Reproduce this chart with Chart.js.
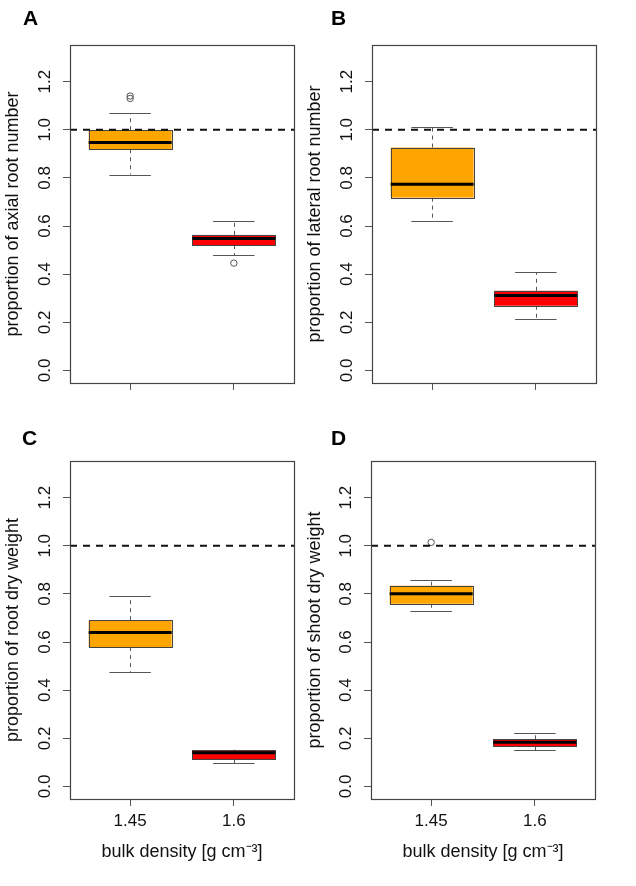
<!DOCTYPE html>
<html>
<head>
<meta charset="utf-8">
<script src="https://cdn.jsdelivr.net/npm/chart.js@4.4.1/dist/chart.umd.min.js"></script>
<style>
  body { margin: 0; background: #fff; }
  #wrap { position: relative; width: 636px; height: 886px; overflow: hidden; }
  #wrap canvas { position: absolute; }
  .letter { position: absolute; font: bold 21px 'Liberation Sans', Arial, sans-serif; line-height: 21px; color: #000; }
</style>
</head>
<body>
<div id="wrap"></div>
<script>
// categories on the x axis (bulk density)
const categories = ['1.45', '1.6'];
const yTickValues = [0, 0.2, 0.4, 0.6, 0.8, 1.0, 1.2];
const referenceLevel = 1.0;
const panelLetters = ['A', 'B', 'C', 'D'];
const yTitles = [
    'proportion of axial root number',
    'proportion of lateral root number',
    'proportion of root dry weight',
    'proportion of shoot dry weight'
];
const xTitle = 'bulk density [g cm\u207B\u00B3]';

// box stats per category: [lower whisker, q1, median, q3, upper whisker]
const axialStats = [[0.814, 0.919, 0.947, 0.998, 1.069], [0.478, 0.521, 0.548, 0.563, 0.622]];
const axialOutliers = [[1.13, 1.14], [0.446]];
const lateralStats = [[0.619, 0.718, 0.774, 0.926, 1.012], [0.213, 0.269, 0.311, 0.331, 0.409]];
const lateralOutliers = [[], []];
const rootWeightStats = [[0.476, 0.579, 0.640, 0.691, 0.790], [0.097, 0.113, 0.140, 0.151, 0.153]];
const rootWeightOutliers = [[], []];
const shootWeightStats = [[0.730, 0.759, 0.801, 0.834, 0.859], [0.151, 0.166, 0.184, 0.196, 0.224]];
const shootWeightOutliers = [[1.014], []];
const boxColors = ['#FFA500', '#FF0000'];

Chart.defaults.font.family = "'Liberation Sans', Arial, Helvetica, sans-serif";
Chart.defaults.color = '#111';

const yMin = -0.052, yMax = 1.352;
const xMin = 0.42, xMax = 2.58;

const boxPlugin = {
    id: 'boxplot',
    beforeDatasetsDraw(chart, args, opts) {
        const ctx = chart.ctx;
        const x = chart.scales.x, y = chart.scales.y;
        opts.stats.forEach((s, i) => {
            const cx = x.getPixelForValue(i + 1);
            const bl = x.getPixelForValue(i + 1 - 0.4);
            const br = x.getPixelForValue(i + 1 + 0.4);
            const sl = x.getPixelForValue(i + 1 - 0.2);
            const sr = x.getPixelForValue(i + 1 + 0.2);
            const [lo, q1, med, q3, hi] = s.map(v => y.getPixelForValue(v));
            ctx.save();
            // whiskers
            ctx.strokeStyle = '#555';
            ctx.lineWidth = 1;
            ctx.setLineDash([4, 4]);
            ctx.beginPath();
            ctx.moveTo(Math.round(cx) + 0.5, q3); ctx.lineTo(Math.round(cx) + 0.5, hi);
            ctx.moveTo(Math.round(cx) + 0.5, q1); ctx.lineTo(Math.round(cx) + 0.5, lo);
            ctx.stroke();
            ctx.setLineDash([]);
            ctx.beginPath();
            ctx.moveTo(sl, Math.round(hi) + 0.5); ctx.lineTo(sr, Math.round(hi) + 0.5);
            ctx.moveTo(sl, Math.round(lo) + 0.5); ctx.lineTo(sr, Math.round(lo) + 0.5);
            ctx.stroke();
            // box
            ctx.fillStyle = opts.colors[i];
            ctx.fillRect(bl, q3, br - bl, q1 - q3);
            ctx.strokeStyle = '#444';
            ctx.strokeRect(Math.round(bl) + 0.5, Math.round(q3) + 0.5, Math.round(br - bl), Math.round(q1 - q3));
            // median
            ctx.strokeStyle = '#000';
            ctx.lineWidth = 3;
            ctx.beginPath();
            ctx.moveTo(bl, med); ctx.lineTo(br, med);
            ctx.stroke();
            ctx.restore();
        });
    },
    afterDraw(chart) {
        const a = chart.chartArea, ctx = chart.ctx;
        ctx.save();
        ctx.strokeStyle = '#444';
        ctx.lineWidth = 1.2;
        ctx.strokeRect(Math.round(a.left) + 0.5, Math.round(a.top) + 0.5, Math.round(a.right - a.left), Math.round(a.bottom - a.top));
        ctx.restore();
    }
};

const panels = [
    { stats: axialStats, outliers: axialOutliers, left: 0, top: 0, w: 302, h: 430, area: { l: 70, r: 294, t: 45, b: 383 }, labels: false },
    { stats: lateralStats, outliers: lateralOutliers, left: 302, top: 0, w: 334, h: 430, area: { l: 70, r: 294, t: 45, b: 383 }, labels: false },
    { stats: rootWeightStats, outliers: rootWeightOutliers, left: 0, top: 430, w: 302, h: 456, area: { l: 70, r: 294, t: 31, b: 369 }, labels: true },
    { stats: shootWeightStats, outliers: shootWeightOutliers, left: 302, top: 430, w: 334, h: 456, area: { l: 69, r: 293, t: 31, b: 369 }, labels: true }
];
const letterPos = [[23, 7], [331, 7], [22, 427], [331, 427]];

const wrap = document.getElementById('wrap');

panels.forEach((p, k) => {
    const canvas = document.createElement('canvas');
    canvas.width = p.w;
    canvas.height = p.h;
    canvas.style.left = p.left + 'px';
    canvas.style.top = p.top + 'px';
    wrap.appendChild(canvas);

    const letter = document.createElement('div');
    letter.className = 'letter';
    letter.textContent = panelLetters[k];
    letter.style.left = letterPos[k][0] + 'px';
    letter.style.top = letterPos[k][1] + 'px';
    wrap.appendChild(letter);

    const outlierPoints = [];
    p.outliers.forEach((list, i) => list.forEach(v => outlierPoints.push({ x: i + 1, y: v })));

    new Chart(canvas, {
        type: 'scatter',
        data: {
            datasets: [{
                data: [{ x: xMin, y: referenceLevel }, { x: xMax, y: referenceLevel }],
                showLine: true,
                borderColor: '#111',
                borderWidth: 2,
                borderDash: [7, 6],
                pointRadius: 0
            }, {
                data: outlierPoints,
                pointRadius: 3.2,
                pointBorderWidth: 1,
                pointBorderColor: '#555',
                pointBackgroundColor: 'rgba(0,0,0,0)'
            }]
        },
        options: {
            responsive: false,
            animation: false,
            layout: { padding: { top: p.area.t, right: p.w - p.area.r, left: 0, bottom: 0 } },
            plugins: {
                legend: { display: false },
                tooltip: { enabled: false },
                boxplot: { stats: p.stats, colors: boxColors }
            },
            scales: {
                x: {
                    type: 'linear',
                    min: xMin,
                    max: xMax,
                    afterBuildTicks: s => { s.ticks = categories.map((c, i) => ({ value: i + 1 })); },
                    afterFit: s => { s.height = p.h - p.area.b; },
                    grid: { drawOnChartArea: false, drawTicks: true, tickLength: 7, color: '#555' },
                    border: { display: false },
                    ticks: {
                        display: p.labels,
                        padding: 5,
                        font: { size: 17 },
                        callback: v => categories[v - 1]
                    },
                    title: {
                        display: p.labels,
                        text: xTitle,
                        font: { size: 18 },
                        padding: { top: 0, bottom: 23 }
                    }
                },
                y: {
                    type: 'linear',
                    min: yMin,
                    max: yMax,
                    afterBuildTicks: s => { s.ticks = yTickValues.map(v => ({ value: v })); },
                    afterFit: s => { s.width = p.area.l; },
                    grid: { drawOnChartArea: false, drawTicks: true, tickLength: 7, color: '#555' },
                    border: { display: false },
                    ticks: {
                        autoSkip: false,
                        minRotation: 90,
                        maxRotation: 90,
                        crossAlign: 'center',
                        padding: 6,
                        font: { size: 17 },
                        callback: v => v.toFixed(1)
                    },
                    title: {
                        display: true,
                        text: yTitles[k],
                        font: { size: 18 },
                        padding: { top: 2, bottom: 0 }
                    }
                }
            }
        },
        plugins: [boxPlugin]
    });
});
</script>
</body>
</html>
